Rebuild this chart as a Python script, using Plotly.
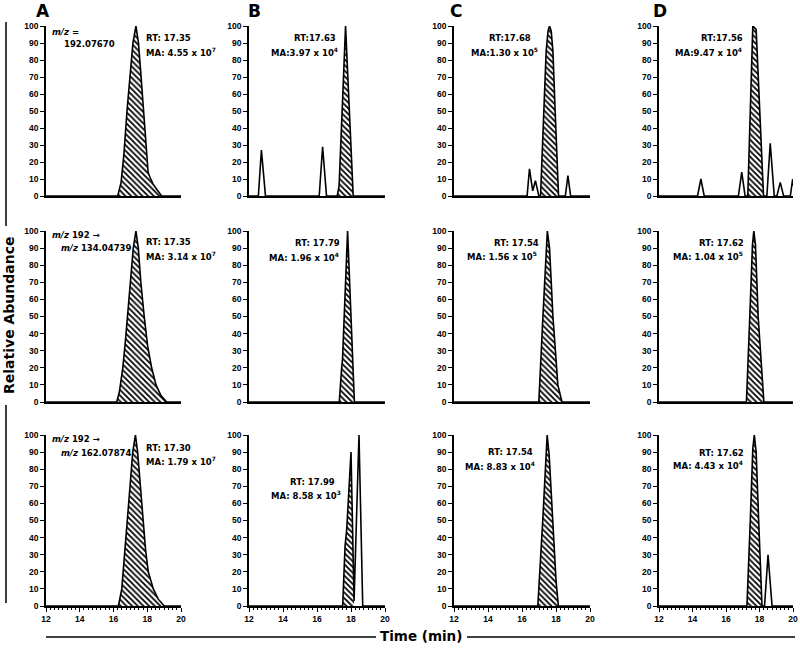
import plotly.graph_objects as go

# ---------------- data (time in min, relative abundance in %) ----------------
A1_t = [12, 16.25, 16.45, 16.62, 16.8, 16.98, 17.15, 17.33, 17.48, 17.62, 17.77, 17.88, 17.97, 18.05, 18.16, 18.35, 18.56, 18.85, 20]
A1_i = [0, 0, 8, 25, 50, 72, 90, 100, 90, 72, 50, 33, 20, 14, 11, 7, 4, 0, 0]
A2_t = [12, 16.19, 16.35, 16.55, 16.7, 16.84, 17.0, 17.17, 17.33, 17.47, 17.62, 17.82, 18.02, 18.26, 18.52, 18.8, 19.15, 20]
A2_i = [0, 0, 6, 20, 35, 50, 70, 90, 100, 90, 70, 50, 33, 20, 10, 4, 0, 0]
A3_t = [12, 16.29, 16.49, 16.65, 16.82, 16.98, 17.14, 17.3, 17.43, 17.58, 17.73, 17.9, 18.06, 18.36, 18.65, 19.01, 20]
A3_i = [0, 0, 10, 28, 50, 70, 90, 100, 90, 70, 50, 33, 20, 10, 4, 0, 0]

B1_t = [12, 12.55, 12.73, 12.97, 16.13, 16.33, 16.56, 17.19, 17.3, 17.68, 18.13, 20]
B1_i = [0, 0, 27, 0, 0, 29, 0, 0, 6, 100, 0, 0]
B2_t = [12, 17.31, 17.45, 17.5, 17.8, 18.08, 18.2, 20]
B2_i = [0, 0, 20, 25, 100, 25, 0, 0]
B3_t = [12, 17.51, 17.65, 17.75, 18.0, 18.18, 18.47, 18.69, 20]
B3_i = [0, 0, 35, 45, 90, 3, 100, 0, 0]

C1_t = [12, 16.3, 16.44, 16.63, 16.79, 16.99, 17.09, 17.27, 17.42, 17.53, 17.62, 17.72, 17.82, 17.95, 18.15, 18.55, 18.7, 18.86, 20]
C1_i = [0, 0, 16, 3, 9, 0, 0, 50, 85, 97, 100, 97, 85, 50, 0, 0, 12, 0, 0]
C2_t = [12, 16.99, 17.23, 17.4, 17.49, 17.62, 17.82, 18.11, 18.35, 20]
C2_i = [0, 0, 50, 85, 100, 90, 50, 10, 0, 0]
C3_t = [12, 16.93, 17.22, 17.38, 17.48, 17.6, 17.81, 18.0, 18.14, 20]
C3_i = [0, 0, 50, 85, 100, 88, 50, 15, 0, 0]

D1_t = [12, 14.3, 14.5, 14.7, 16.74, 16.94, 17.14, 17.3, 17.6, 17.8, 18.24, 18.44, 18.64, 18.88, 19.04, 19.24, 19.44, 19.84, 19.98, 20]
D1_i = [0, 0, 10, 0, 0, 14, 0, 0, 100, 98, 0, 0, 31, 0, 0, 8, 0, 0, 10, 6]
D2_t = [12, 17.22, 17.42, 17.58, 17.66, 17.76, 17.92, 18.26, 20]
D2_i = [0, 0, 50, 92, 100, 92, 50, 0, 0]
D3_t = [12, 17.25, 17.45, 17.6, 17.69, 17.8, 17.95, 18.15, 18.3, 18.51, 18.75, 20]
D3_i = [0, 0, 50, 92, 100, 90, 50, 0, 0, 30, 0, 0]

# integrated (hatched) peak windows, min
HATCH = {
    "A1": (16.25, 18.85), "A2": (16.19, 19.15), "A3": (16.29, 19.01),
    "B1": (17.19, 18.13), "B2": (17.31, 18.2), "B3": (17.51, 18.18),
    "C1": (17.09, 18.15), "C2": (16.99, 18.35), "C3": (16.93, 18.14),
    "D1": (17.3, 18.24), "D2": (17.22, 18.26), "D3": (17.25, 18.15),
}

RT_LABELS = {
    "A1": "RT: 17.35", "B1": "RT:17.63", "C1": "RT:17.68", "D1": "RT:17.56",
    "A2": "RT: 17.35", "B2": "RT: 17.79", "C2": "RT: 17.54", "D2": "RT: 17.62",
    "A3": "RT: 17.30", "B3": "RT: 17.99", "C3": "RT: 17.54", "D3": "RT: 17.62",
}
MA_LABELS = {
    "A1": ("MA: 4.55 x 10", "7"), "B1": ("MA:3.97 x 10", "4"), "C1": ("MA:1.30 x 10", "5"), "D1": ("MA:9.47 x 10", "4"),
    "A2": ("MA: 3.14 x 10", "7"), "B2": ("MA: 1.96 x 10", "4"), "C2": ("MA: 1.56 x 10", "5"), "D2": ("MA: 1.04 x 10", "5"),
    "A3": ("MA: 1.79 x 10", "7"), "B3": ("MA: 8.58 x 10", "3"), "C3": ("MA: 8.83 x 10", "4"), "D3": ("MA: 4.43 x 10", "4"),
}
MZ_LABELS = [
    ("<i>m/z</i> =", "192.07670"),
    ("<i>m/z</i> 192 →", "<i>m/z</i> 134.04739"),
    ("<i>m/z</i> 192 →", "<i>m/z</i> 162.07874"),
]
COLUMN_LETTERS = ["A", "B", "C", "D"]
X_TICKS = [12, 14, 16, 18, 20]
Y_TICKS = [0, 10, 20, 30, 40, 50, 60, 70, 80, 90, 100]

SERIES = {
    "A1": (A1_t, A1_i), "A2": (A2_t, A2_i), "A3": (A3_t, A3_i),
    "B1": (B1_t, B1_i), "B2": (B2_t, B2_i), "B3": (B3_t, B3_i),
    "C1": (C1_t, C1_i), "C2": (C2_t, C2_i), "C3": (C3_t, C3_i),
    "D1": (D1_t, D1_i), "D2": (D2_t, D2_i), "D3": (D3_t, D3_i),
}

# ---------------- layout geometry (pixels) ----------------
W, H = 800, 650
COL_PX = [(46, 181), (249, 385), (454, 590), (659, 793)]
ROW_PX = [(26, 196), (231, 402), (435, 606)]

def px(x):
    return x / W

def py(y):
    return 1 - y / H

FONT = "DejaVu Sans"
TICKFONT = dict(family="Liberation Sans", size=8.5, color="black", weight="bold")

fig = go.Figure()
layout = dict(
    template="none",
    width=W, height=H, margin=dict(l=0, r=0, t=0, b=0, pad=0, autoexpand=False),
    paper_bgcolor="white", plot_bgcolor="white", showlegend=False,
)

k = 0
for r in range(3):
    for c in range(4):
        k += 1
        key = f"{COLUMN_LETTERS[c]}{r+1}"
        t, inten = SERIES[key]
        h0, h1 = HATCH[key]
        ht = [tt for tt in t if h0 <= tt <= h1]
        hi = [ii for tt, ii in zip(t, inten) if h0 <= tt <= h1]
        xa = "x" if k == 1 else f"x{k}"
        ya = "y" if k == 1 else f"y{k}"
        fig.add_trace(go.Scatter(
            x=ht, y=hi, mode="lines", xaxis=xa, yaxis=ya,
            line=dict(width=0, color="black"), fill="tozeroy",
            fillcolor="white",
            fillpattern=dict(shape="\\", fgcolor="black", bgcolor="white", size=4, solidity=0.45),
            hoverinfo="skip",
        ))
        fig.add_trace(go.Scatter(
            x=t, y=inten, mode="lines", xaxis=xa, yaxis=ya,
            line=dict(width=1.6, color="black"), hoverinfo="skip",
        ))
        x0, x1 = COL_PX[c]
        y0, y1 = ROW_PX[r]
        bottom = (r == 2)
        xaxis = dict(
            domain=[px(x0), px(x1)], range=[12, 20], anchor=ya, automargin=False,
            showline=True, linecolor="black", linewidth=1.6, showgrid=False, zeroline=False,
            tickmode="array", tickvals=X_TICKS,
            ticks="outside" if bottom else "", ticklen=4, tickwidth=1.2, tickcolor="black",
            showticklabels=bottom, tickfont=TICKFONT,
        )
        if bottom:
            xaxis["minor"] = dict(dtick=0.25, ticks="outside", ticklen=2.5, tickwidth=1, tickcolor="black", showgrid=False)
        yaxis = dict(
            domain=[py(y1), py(y0)], range=[0, 100], anchor=xa, automargin=False,
            showline=True, linecolor="black", linewidth=1.6, showgrid=False, zeroline=False,
            tickmode="array", tickvals=Y_TICKS, ticks="outside", ticklen=4, tickwidth=1.2,
            tickcolor="black", tickfont=TICKFONT,
        )
        layout["xaxis" if k == 1 else f"xaxis{k}"] = xaxis
        layout["yaxis" if k == 1 else f"yaxis{k}"] = yaxis

fig.update_layout(**layout)

ANN_FONT = dict(family=FONT, size=8.5, color="black", weight="bold")
anns = []

def add_text(text, x, y, xanchor="left", font=ANN_FONT, textangle=0):
    anns.append(dict(text=text, x=px(x), y=py(y), xref="paper", yref="paper",
                     xanchor=xanchor, yanchor="middle", showarrow=False,
                     font=font, textangle=textangle))

# column letters
for letter, xc in zip(COLUMN_LETTERS, [43, 255, 456, 660]):
    add_text(letter, xc, 11, xanchor="center", font=dict(family=FONT, size=17, color="black", weight="bold"))

# m/z labels in column A
MZ_POS = [((50, 32), (62, 44)), ((50, 235), (59, 248)), ((50, 439), (59, 453))]
for (l1, l2), (p1, p2) in zip(MZ_LABELS, MZ_POS):
    add_text(l1, p1[0], p1[1])
    add_text(l2, p2[0], p2[1])

# RT / MA labels
RT_POS = {
    "A1": (144, 38, "left"), "B1": (338, 38, "right"), "C1": (533, 38, "right"), "D1": (745, 38, "right"),
    "A2": (144, 242, "left"), "B2": (342, 243, "right"), "C2": (541, 243, "right"), "D2": (746, 243, "right"),
    "A3": (144, 448, "left"), "B3": (337, 482, "right"), "C3": (535, 452, "right"), "D3": (746, 453, "right"),
}
MA_POS = {
    "A1": (144, 52, "left"), "B1": (340, 52, "right"), "C1": (540, 52, "right"), "D1": (744, 52, "right"),
    "A2": (144, 256, "left"), "B2": (341, 257, "right"), "C2": (539, 256, "right"), "D2": (745, 256, "right"),
    "A3": (144, 461, "left"), "B3": (343, 495, "right"), "C3": (537, 466, "right"), "D3": (745, 465, "right"),
}
for key, txt in RT_LABELS.items():
    x, y, a = RT_POS[key]
    add_text(txt, x, y, xanchor=a)
for key, (txt, sup) in MA_LABELS.items():
    x, y, a = MA_POS[key]
    add_text(f"{txt}<sup>{sup}</sup>", x, y, xanchor=a)

# axis titles
add_text("Relative Abundance", 9, 315, xanchor="center",
         font=dict(family=FONT, size=14, color="black", weight="bold"), textangle=-90)
add_text("Time (min)", 421, 636, xanchor="center",
         font=dict(family=FONT, size=13.5, color="black", weight="bold"))

shapes = [
    dict(type="line", xref="paper", yref="paper", x0=px(6), x1=px(6), y0=py(22), y1=py(226),
         line=dict(color="black", width=1.5)),
    dict(type="line", xref="paper", yref="paper", x0=px(6), x1=px(6), y0=py(405), y1=py(603),
         line=dict(color="black", width=1.5)),
    dict(type="line", xref="paper", yref="paper", x0=px(46), x1=px(376), y0=py(637), y1=py(637),
         line=dict(color="black", width=1.5)),
    dict(type="line", xref="paper", yref="paper", x0=px(467), x1=px(795), y0=py(637), y1=py(637),
         line=dict(color="black", width=1.5)),
]

fig.update_layout(annotations=anns, shapes=shapes)
fig.write_html(
    "out.html",
    config={"displayModeBar": False},
    post_script="document.body.style.margin='0';document.body.style.padding='0';document.body.style.overflow='hidden';",
)
